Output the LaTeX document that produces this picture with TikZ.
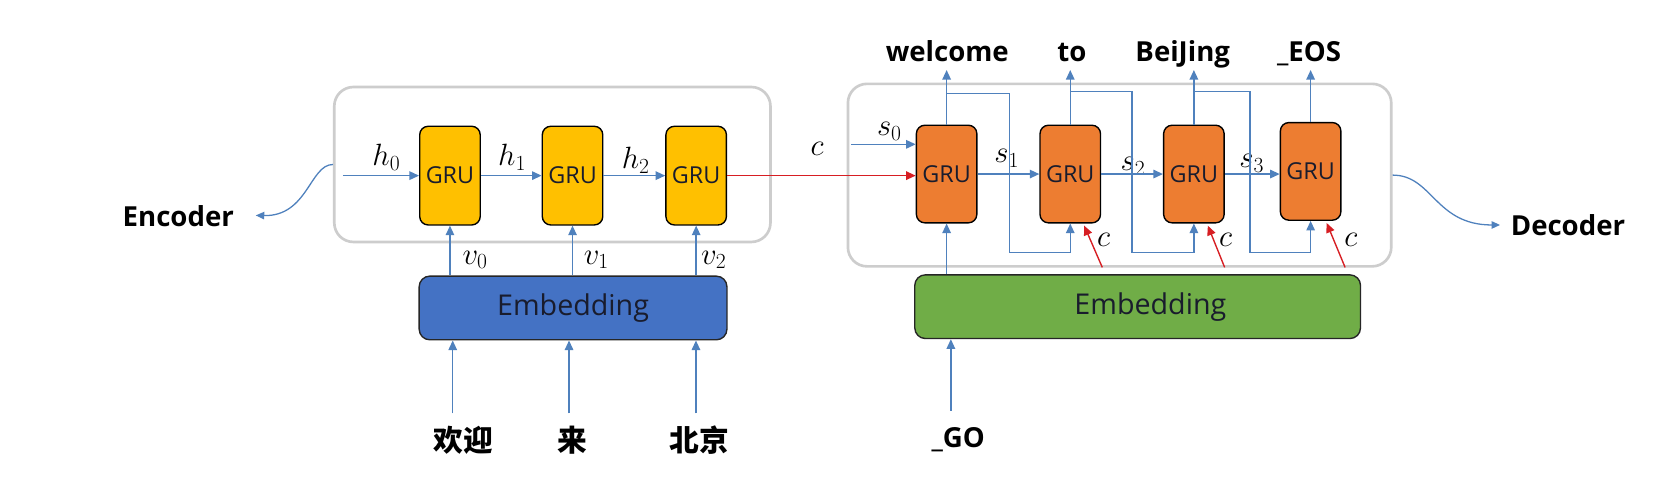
\RequirePackage{fix-cm}
\documentclass[tikz,border=0pt]{standalone}
\usepackage{fontspec}
\newfontfamily\osans{Open Sans}
\newfontfamily\cjk{Noto Sans CJK SC}
\usetikzlibrary{arrows.meta,calc}
\definecolor{arrblue}{RGB}{79,129,189}
\definecolor{cred}{RGB}{215,30,35}
\definecolor{boxgray}{RGB}{205,205,205}
\definecolor{gold}{RGB}{255,192,0}
\definecolor{dorange}{RGB}{237,125,49}
\definecolor{embblue}{RGB}{68,114,196}
\definecolor{embgreen}{RGB}{112,173,71}
\definecolor{darktext}{RGB}{25,28,45}
\begin{document}
\begin{tikzpicture}[x=1pt,y=-1pt,
  arr/.style={draw=arrblue, line width=1.3pt, -{Triangle[length=9pt,width=8pt]}},
  redarr/.style={draw=cred, line width=1.3pt, -{Triangle[length=9pt,width=8pt]}},
  curvearr/.style={draw=arrblue, line width=1.2pt, -{Triangle[length=8pt,width=7pt]}},
  container/.style={draw=boxgray, line width=2.5pt, rounded corners=18pt, inner sep=0pt},
  gru/.style={draw=black, line width=1.3pt, rounded corners=8pt, minimum width=57pt,
     minimum height=93pt, inner sep=0pt, font=\osans\fontsize{22}{22}\selectfont, text=darktext},
  genc/.style={gru, fill=gold},
  gdec/.style={gru, fill=dorange, minimum height=92pt},
  emb/.style={draw=black!85, line width=1.3pt, rounded corners=10pt, inner sep=0pt,
     minimum height=60pt, font=\osans\fontsize{27}{30}\selectfont, text=darktext},
  mathlab/.style={inner sep=0pt, font=\fontsize{29}{34}\selectfont},
  boldlab/.style={inner sep=0pt, font=\osans\bfseries\fontsize{26}{30}\selectfont},
  cjklab/.style={inner sep=0pt, font=\cjk\bfseries\fontsize{28}{32}\selectfont}
]
\useasboundingbox (0,0) rectangle (1568,449);
\fill[white] (0,0) rectangle (1568,449);

% containers
\node[container, minimum width=411pt, minimum height=146pt] (encbox) at (520.5,155) {};
\node[container, minimum width=512pt, minimum height=172pt] (decbox) at (1055,165) {};

% encoder GRUs
\node[genc] (e1) at (424,165.5) {GRU};
\node[genc] (e2) at (539.5,165.5) {GRU};
\node[genc] (e3) at (656,165.5) {GRU};

% decoder GRUs
\node[gdec] (d1) at (892,164) {GRU};
\node[gdec] (d2) at (1008.5,164) {GRU};
\node[gdec] (d3) at (1125,164) {GRU};
\node[gdec] (d4) at (1235,161.5) {GRU};

% embeddings
\node[emb, fill=embblue, minimum width=290pt] (eemb) at (540,290.2) {Embedding};
\node[emb, fill=embgreen, minimum width=420pt] (demb) at (1072,289) {\hspace*{24pt}Embedding};

% labels
\node[boldlab] (enclab) at (168,204) {Encoder};
\node[boldlab] (declab) at (1477.5,212) {Decoder};
\node[cjklab] (l1) at (436.6,414.6) {欢迎};
\node[cjklab] (l2) at (539,414.6) {来};
\node[cjklab] (l3) at (659,414.6) {北京};
\node[boldlab] (lgo) at (903,414.6) {\_GO};
\node[boldlab, anchor=base] (o1) at (892.6,57.5) {welcome};
\node[boldlab, anchor=base] (o2) at (1010,57.5) {to};
\node[boldlab, anchor=base] (o3) at (1114.5,57.5) {BeiJing};
\node[boldlab, anchor=base] (o4) at (1233.5,57.5) {\_EOS};

\node[mathlab] (h0) at (364,148) {$h_0$};
\node[mathlab] (h1) at (482.5,148) {$h_1$};
\node[mathlab] (h2) at (599,151) {$h_2$};
\node[mathlab] (v0) at (447.6,245) {$v_0$};
\node[mathlab] (v1) at (562,245) {$v_1$};
\node[mathlab] (v2) at (672.5,245) {$v_2$};
\node[mathlab] (cl) at (770,140) {$c$};
\node[mathlab] (s0) at (838,124) {$s_0$};
\node[mathlab] (s1) at (948.6,149) {$s_1$};
\node[mathlab] (s2) at (1067.6,157) {$s_2$};
\node[mathlab] (s3) at (1179.4,154) {$s_3$};
\node[mathlab] (c2) at (1040,226) {$c$};
\node[mathlab] (c3) at (1155,226) {$c$};
\node[mathlab] (c4) at (1273,226) {$c$};

% coordinates
\coordinate (h0s) at (323,165.5);
\coordinate (s0s) at (802,136);
\coordinate (a1) at (426.6,389.5);
\coordinate (a2) at (536.2,389.5);
\coordinate (a3) at (655.8,389.5);
\coordinate (ago) at (896,387);
\coordinate (t1) at (892,66);
\coordinate (t2) at (1008.5,66);
\coordinate (t3) at (1125,66);
\coordinate (t4) at (1235,66);
\coordinate (f1a) at (951.5,88);
\coordinate (f1b) at (951.5,238);
\coordinate (f2a) at (1066.6,86);
\coordinate (f2b) at (1066.6,238);
\coordinate (f3a) at (1177.7,86);
\coordinate (f3b) at (1177.7,238);
\coordinate (rs2) at (1038.7,252);
\coordinate (rs3) at (1154,252);
\coordinate (rs4) at (1267.5,252);
\coordinate (enctip) at (241,203);
\coordinate (dectip) at (1413.5,212);

% encoder connectors
\draw[arr] (h0s) -- (h0s -| e1.west);
\draw[arr] (e1.east) -- (e2.west);
\draw[arr] (e2.east) -- (e3.west);
\draw[arr] (e1.south |- eemb.north) -- (e1.south);
\draw[arr] (e2.south |- eemb.north) -- (e2.south);
\draw[arr] (e3.south |- eemb.north) -- (e3.south);
\draw[arr] (a1) -- (a1 |- eemb.south);
\draw[arr] (a2) -- (a2 |- eemb.south);
\draw[arr] (a3) -- (a3 |- eemb.south);

% context
\draw[redarr] (e3.east) -- (e3.east -| d1.west);

% decoder connectors
\draw[arr] (s0s) -- (s0s -| d1.west);
\draw[arr] (d1.east) -- (d2.west);
\draw[arr] (d2.east) -- (d2.east -| d3.west);
\draw[arr] (d3.east) -- (d3.east -| d4.west);
\draw[arr] (d1.north) -- (t1);
\draw[arr] (d2.north) -- (t2);
\draw[arr] (d3.north) -- (t3);
\draw[arr] (d4.north) -- (t4);
\draw[arr] (d1.north |- f1a) -- (f1a) -- (f1b) -- (f1b -| d2.south) -- (d2.south);
\draw[arr] (d2.north |- f2a) -- (f2a) -- (f2b) -- (f2b -| d3.south) -- (d3.south);
\draw[arr] (d3.north |- f3a) -- (f3a) -- (f3b) -- (f3b -| d4.south) -- (d4.south);
\draw[redarr] (rs2) -- ($(d2.south east)+(-16,2)$);
\draw[redarr] (rs3) -- ($(d3.south east)+(-16,2)$);
\draw[redarr] (rs4) -- ($(d4.south east)+(-14,2)$);
\draw[arr] (d1.south |- demb.north) -- (d1.south);
\draw[arr] (ago) -- (ago |- demb.south);

% side curves
\draw[curvearr] (encbox.west) .. controls (292,155) and (290,204) .. (enctip);
\draw[curvearr] (decbox.east) .. controls (1350,165) and (1352,212) .. (dectip);
\end{tikzpicture}
\end{document}
